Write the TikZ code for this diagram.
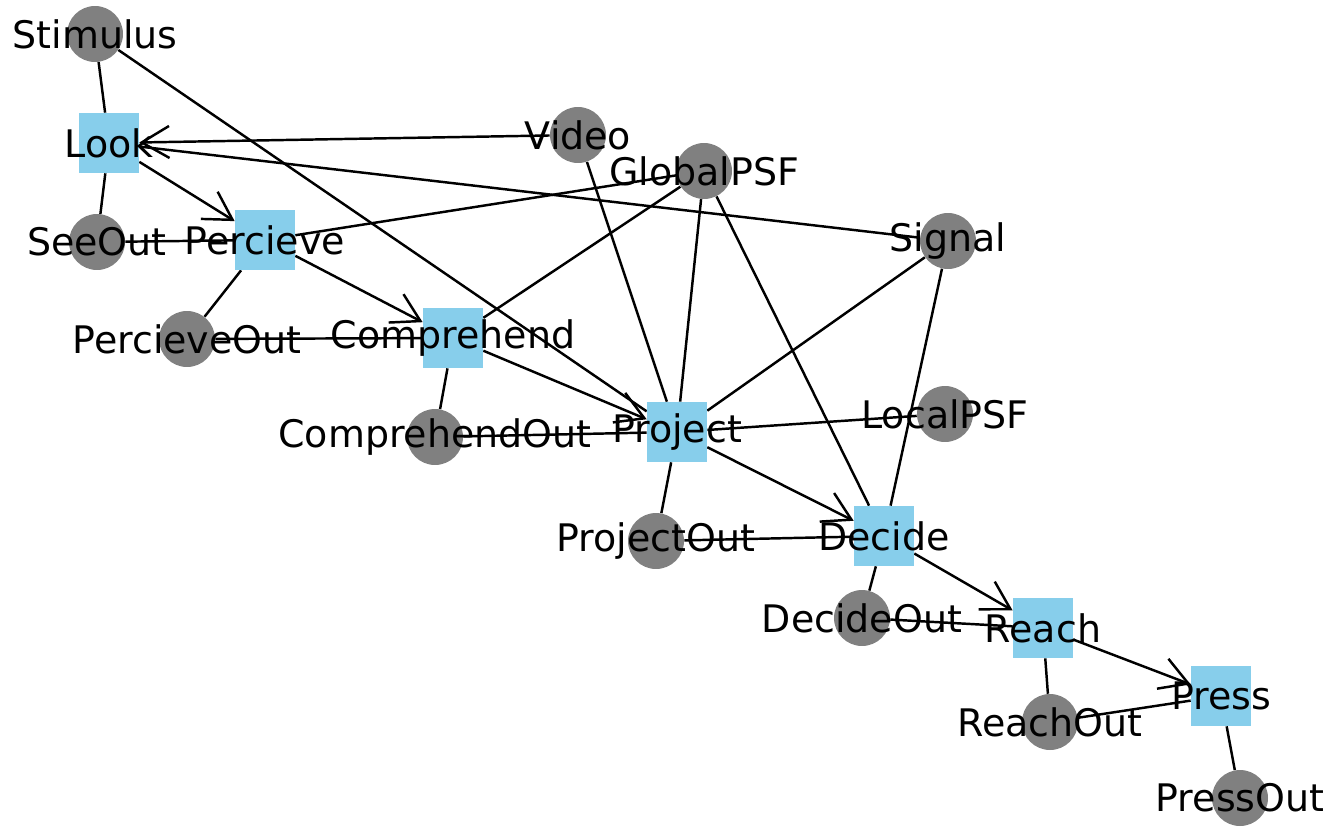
\documentclass[tikz,border=0pt]{standalone}
\usepackage{fontspec}
\setmainfont{DejaVu Sans}
\usetikzlibrary{arrows.meta,backgrounds}
\definecolor{skyblue}{HTML}{87CEEB}
\definecolor{nodegray}{HTML}{808080}

\begin{document}
\begin{tikzpicture}[x=0.02cm, y=-0.02cm,
	 stagenode/.style={rectangle, fill=skyblue, minimum size=1.2cm, inner sep=0pt},
	 datanode/.style={circle, fill=nodegray, minimum size=1.12cm, inner sep=0pt},
	 every label/.style={font=\fontsize{21.6}{26}\selectfont, text=black, inner sep=0pt},
	 link/.style={line width=1.4pt},
	 flow/.style={link, -{Straight Barb[length=0.55cm, width=0.64cm]}}]
	    \useasboundingbox (0,0) rectangle (1329,828);
	    \node (stimulus) at (95,34) [datanode, label=center:Stimulus] {};
	    \node (look) at (109,143) [stagenode, label=center:Look] {};
	    \node (video) at (578,135) [datanode, label=center:Video] {};
	    \node (globalpsf) at (704,171) [datanode, label=center:GlobalPSF] {};
	    \node (seeout) at (97,242) [datanode, label=center:SeeOut] {};
	    \node (percieve) at (265,240) [stagenode, label=center:Percieve] {};
	    \node (signal) at (948,241) [datanode, label=center:Signal] {};
	    \node (percieveout) at (187,339) [datanode, label=center:PercieveOut] {};
	    \node (comprehend) at (453,338) [stagenode, label=center:Comprehend] {};
	    \node (localpsf) at (945,414) [datanode, label=center:LocalPSF] {};
	    \node (comprehendout) at (435,437) [datanode, label=center:ComprehendOut] {};
	    \node (project) at (677,432) [stagenode, label=center:Project] {};
	    \node (projectout) at (656,541) [datanode, label=center:ProjectOut] {};
	    \node (decide) at (884,536) [stagenode, label=center:Decide] {};
	    \node (decideout) at (862,618) [datanode, label=center:DecideOut] {};
	    \node (reach) at (1043,628) [stagenode, label=center:Reach] {};
	    \node (reachout) at (1050,722) [datanode, label=center:ReachOut] {};
	    \node (press) at (1221,696) [stagenode, label=center:Press] {};
	    \node (pressout) at (1240,798) [datanode, label=center:PressOut] {};
	    \begin{scope}[on background layer]
	        \draw[link] (stimulus) -- (look);
	        \draw[link] (stimulus) -- (project);
	        \draw[flow] (video) -- (look);
	        \draw[link] (signal) -- (look);
	        \draw[link] (look) -- (seeout);
	        \draw[flow] (look) -- (percieve);
	        \draw[link] (seeout) -- (percieve);
	        \draw[link] (percieve) -- (globalpsf);
	        \draw[link] (percieve) -- (percieveout);
	        \draw[flow] (percieve) -- (comprehend);
	        \draw[link] (percieveout) -- (comprehend);
	        \draw[link] (comprehend) -- (globalpsf);
	        \draw[link] (comprehend) -- (comprehendout);
	        \draw[flow] (comprehend) -- (project);
	        \draw[link] (comprehendout) -- (project);
	        \draw[link] (video) -- (project);
	        \draw[link] (globalpsf) -- (project);
	        \draw[link] (signal) -- (project);
	        \draw[link] (localpsf) -- (project);
	        \draw[link] (project) -- (projectout);
	        \draw[flow] (project) -- (decide);
	        \draw[link] (globalpsf) -- (decide);
	        \draw[link] (signal) -- (decide);
	        \draw[link] (projectout) -- (decide);
	        \draw[link] (decide) -- (decideout);
	        \draw[flow] (decide) -- (reach);
	        \draw[link] (decideout) -- (reach);
	        \draw[link] (reach) -- (reachout);
	        \draw[flow] (reach) -- (press);
	        \draw[link] (reachout) -- (press);
	        \draw[link] (press) -- (pressout);
	    \end{scope}
	 \end{tikzpicture}
\end{document}
